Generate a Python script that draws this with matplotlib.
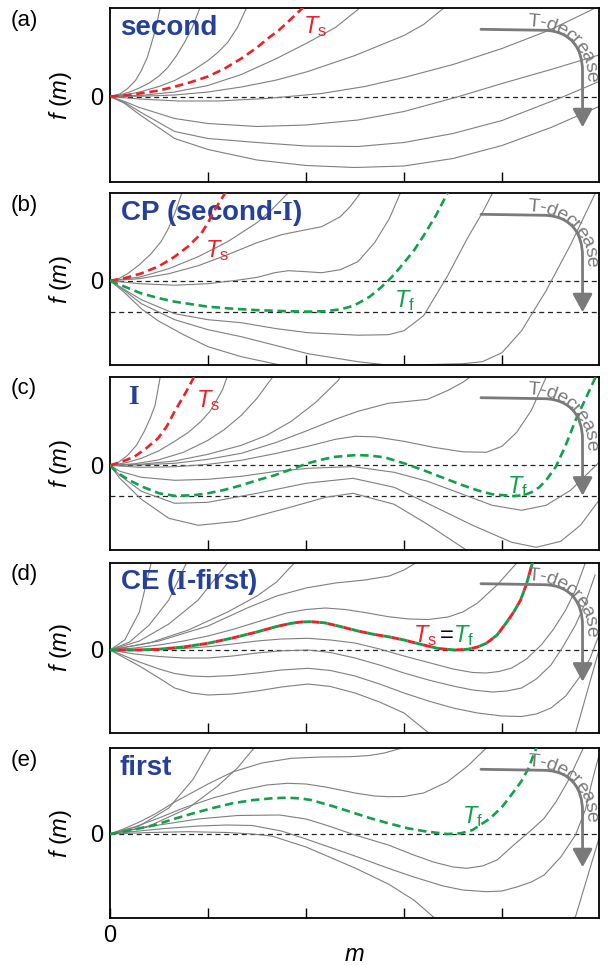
import numpy as np
import matplotlib.pyplot as plt
from matplotlib.path import Path
from matplotlib.patches import FancyArrowPatch
from matplotlib.transforms import Affine2D

plt.rcParams['font.family'] = ['Liberation Sans', 'DejaVu Sans']
plt.rcParams['mathtext.fontset'] = 'custom'
plt.rcParams['mathtext.rm'] = 'Liberation Sans'
plt.rcParams['mathtext.it'] = 'Liberation Sans:italic'
plt.rcParams['mathtext.bf'] = 'Liberation Serif:bold'

# ---- digitised free-energy curves, (m, f) pairs ----
# panel (a): second order
a_gray = [
    [(0, 0), (0.1, 0.25), (0.18, 0.8), (0.26, 1.6), (0.32, 2.6), (0.38, 3.9), (0.42, 5.2), (0.47, 6.9), (0.51, 8.8), (0.55, 10.5)],
    [(0, 0), (0.1, 0.15), (0.2, 0.45), (0.3, 0.85), (0.4, 1.35), (0.5, 2.05), (0.59, 2.9), (0.68, 4.1), (0.76, 5.4), (0.84, 6.9), (0.915, 8.8), (0.96, 10)],
    [(0, 0), (0.16, 0.15), (0.32, 0.5), (0.5, 1.0), (0.66, 1.6), (0.83, 2.5), (1.0, 3.6), (1.1, 4.4), (1.2, 5.4), (1.3, 6.9), (1.39, 8.8), (1.45, 10)],
    [(0, 0), (0.33, 0.12), (0.66, 0.45), (1.0, 1.1), (1.34, 2.2), (1.7, 3.8), (2.02, 5.4), (2.3, 6.9), (2.53, 8.7), (2.6, 9.3)],
    [(0, 0), (0.33, 0.03), (0.66, 0.15), (1.0, 0.45), (1.34, 0.95), (1.7, 1.65), (2.02, 2.5), (2.5, 4.1), (3.0, 6.1), (3.2, 7.2), (3.4, 8.8), (3.5, 9.5)],
    [(0, 0), (0.3, -0.25), (0.7, -0.45), (1.1, -0.45), (1.6, -0.2), (2.16, 0.3), (2.6, 1.0), (3.0, 1.9), (3.5, 3.2), (4.0, 4.8), (4.5, 6.7), (4.9, 8.6), (5.0, 9.1)],
    [(0, 0), (0.15, -0.5), (0.3, -1.1), (0.66, -2.2), (1.0, -2.7), (1.5, -3.0), (2.0, -2.85), (2.53, -2.35), (3.0, -1.5), (3.56, 0), (4.0, 1.3), (4.5, 2.7), (4.99, 4.15)],
    [(0, 0), (0.15, -0.6), (0.3, -1.5), (0.66, -3.5), (1.0, -4.2), (1.5, -4.6), (2.0, -4.95), (2.53, -5.0), (3.0, -4.6), (3.5, -3.7), (4.0, -2.4), (4.63, 0), (4.99, 1.5)],
    [(0, 0), (0.15, -0.7), (0.3, -1.8), (0.66, -4.2), (1.0, -5.3), (1.5, -6.35), (2.0, -6.9), (2.5, -7.1), (3.0, -6.95), (3.5, -6.2), (4.0, -4.9), (4.5, -3.1), (4.99, -1.0)],
]
a_ts = [(0, 0), (0.16, 0.12), (0.32, 0.32), (0.5, 0.6), (0.66, 0.98), (0.83, 1.45), (1.0, 2.0), (1.17, 2.8),
        (1.34, 3.8), (1.5, 4.9), (1.61, 5.8), (1.72, 6.6), (1.82, 7.5), (1.96, 8.8), (2.0, 9.3)]
a_tf = []

# panel (b): critical point (second-I)
b_gray = [
    [(0, 0), (0.08, 0.15), (0.18, 0.7), (0.3, 1.6), (0.42, 2.7), (0.52, 3.9), (0.59, 5.1), (0.66, 6.7), (0.73, 8.7), (0.78, 10)],
    [(0, 0), (0.3, 0.35), (0.6, 1.2), (0.9, 2.4), (1.2, 3.9), (1.5, 5.8), (1.65, 7.1), (1.81, 8.7), (1.86, 9.3)],
    [(0, 0), (0.3, 0.2), (0.6, 0.7), (0.9, 1.5), (1.2, 2.6), (1.5, 3.8), (1.75, 4.6), (1.95, 5.0), (2.16, 5.4), (2.35, 6.4), (2.45, 7.4), (2.55, 8.7), (2.6, 9.4)],
    [(0, 0), (0.3, -0.3), (0.66, -0.45), (1.0, -0.3), (1.3, 0.05), (1.51, 0.35), (1.68, 0.8), (1.82, 1.0), (2.0, 0.9), (2.16, 0.8), (2.35, 1.1), (2.53, 1.9), (2.7, 3.8), (2.85, 6.2), (2.96, 8.7), (3.0, 9.5)],
    [(0, 0), (0.15, -0.9), (0.32, -1.9), (0.66, -3.3), (1.0, -3.9), (1.34, -4.2), (1.7, -4.8), (2.02, -5.2), (2.53, -5.45), (2.84, -5.4), (3.0, -5.0), (3.2, -3.5), (3.44, 0.4), (3.65, 4.3), (3.8, 6.8), (3.9, 8.7), (3.95, 9.5)],
    [(0, 0), (0.15, -1.0), (0.32, -2.3), (0.66, -3.9), (1.0, -4.9), (1.34, -5.6), (1.7, -6.5), (2.02, -7.3), (2.53, -8.1), (2.8, -8.4), (3.2, -8.4), (3.6, -8.3), (3.8, -8.1), (4.0, -7.2), (4.2, -5.0), (4.45, -1.0), (4.7, 3.6), (4.95, 8.7), (5.0, 9.5)],
    [(0, 0), (0.15, -1.2), (0.32, -2.8), (0.49, -4.0), (0.75, -5.4), (1.0, -6.6), (1.34, -7.6), (1.77, -8.5), (1.9, -9.0)],
]
b_ts = [(0, 0), (0.15, 0.25), (0.32, 0.73), (0.5, 1.45), (0.66, 2.4), (0.8, 3.45), (0.93, 4.7), (1.0, 5.8),
        (1.07, 7.1), (1.12, 7.9), (1.19, 9.0)]
b_tf = [(0, 0), (0.15, -0.6), (0.32, -1.27), (0.5, -1.75), (0.66, -2.1), (1.0, -2.6), (1.25, -2.8), (1.51, -2.95),
        (1.8, -3.05), (2.02, -3.1), (2.2, -3.05), (2.36, -2.85), (2.45, -2.6), (2.53, -2.27), (2.65, -1.6),
        (2.75, -0.8), (2.84, 0.0), (2.92, 0.85), (3.0, 1.8), (3.1, 3.0), (3.2, 4.5), (3.33, 6.6), (3.44, 8.7),
        (3.48, 9.4)]

# panel (c): phase I
c_gray = [
    [(0, 0), (0.08, 0.25), (0.18, 1.0), (0.27, 2.0), (0.35, 3.4), (0.41, 4.7), (0.46, 6.0), (0.51, 8.7), (0.55, 10)],
    [(0, 0), (0.16, 0.25), (0.32, 0.7), (0.5, 1.45), (0.66, 2.4), (0.8, 3.3), (0.93, 4.4), (1.02, 5.4), (1.1, 6.7), (1.15, 7.6), (1.19, 8.7), (1.23, 9.5)],
    [(0, 0), (0.25, 0.15), (0.49, 0.53), (0.75, 1.3), (1.0, 2.5), (1.17, 3.6), (1.34, 5.0), (1.5, 6.7), (1.65, 8.7), (1.7, 9.4)],
    [(0, 0), (0.33, 0.12), (0.66, 0.43), (1.0, 1.1), (1.34, 2.0), (1.6, 3.0), (1.85, 4.4), (2.1, 6.3), (2.33, 8.5), (2.37, 9.2)],
    [(0, 0), (0.33, 0.05), (0.66, 0.2), (1.0, 0.6), (1.34, 1.2), (1.7, 2.3), (2.02, 3.5), (2.3, 4.6), (2.53, 5.4), (2.84, 6.2), (3.05, 6.4), (3.24, 6.6), (3.45, 7.5), (3.6, 8.3), (3.7, 9.0)],
    [(0, 0), (0.3, -0.2), (0.66, -0.15), (1.0, 0.1), (1.34, 0.5), (1.7, 1.2), (2.02, 1.9), (2.3, 2.6), (2.5, 2.9), (2.7, 2.85), (3.0, 2.4), (3.3, 1.8), (3.6, 1.35), (3.84, 1.3), (4.0, 1.9), (4.15, 3.3), (4.3, 5.5), (4.45, 8.8)],
    [(0, 0), (0.1, -0.6), (0.32, -1.2), (0.66, -1.5), (1.0, -1.4), (1.34, -1.1), (1.7, -0.6), (2.02, -0.3), (2.48, -0.13), (2.9, -0.7), (3.24, -1.6), (3.6, -2.9), (3.9, -4.0), (4.2, -4.5), (4.45, -4.0), (4.7, -2.5), (4.99, 0.3)],
    [(0, 0), (0.1, -1.0), (0.32, -2.6), (0.66, -3.8), (1.0, -3.7), (1.5, -2.8), (2.0, -1.8), (2.48, -1.3), (2.9, -2.2), (3.24, -3.8), (3.7, -6.0), (4.1, -7.7), (4.35, -8.2), (4.6, -7.6), (4.8, -6.0), (4.99, -3.5)],
    [(0, 0), (0.1, -1.3), (0.32, -3.4), (0.6, -5.3), (0.9, -6.0), (1.3, -5.6), (1.8, -4.3), (2.2, -3.2), (2.48, -2.8), (2.9, -3.9), (3.24, -5.9), (3.64, -8.5), (3.8, -9.5)],
]
c_ts = [(0, 0), (0.12, 0.35), (0.25, 0.87), (0.37, 1.7), (0.49, 2.7), (0.58, 3.9), (0.66, 5.4), (0.72, 6.4),
        (0.78, 7.4), (0.85, 8.7), (0.88, 9.5)]
c_tf = [(0, 0), (0.05, -0.5), (0.1, -0.9), (0.2, -1.5), (0.32, -2.1), (0.5, -2.8), (0.66, -3.05), (0.85, -3.0),
        (1.0, -2.8), (1.17, -2.45), (1.34, -2.0), (1.5, -1.5), (1.68, -1.0), (1.85, -0.4), (2.02, 0.2),
        (2.15, 0.55), (2.3, 0.85), (2.52, 1.03), (2.65, 0.97), (2.8, 0.8), (3.0, 0.2), (3.2, -0.5),
        (3.4, -1.25), (3.6, -2.0), (3.75, -2.5), (3.9, -2.9), (4.12, -3.07), (4.22, -3.0), (4.3, -2.7),
        (4.38, -2.2), (4.45, -1.5), (4.55, -0.13), (4.65, 2.0), (4.75, 4.5), (4.85, 6.6), (4.95, 8.7),
        (4.99, 9.5)]

# panel (d): critical end point (I-first), Ts = Tf
d_gray = [
    [(0, 0), (0.15, 1.0), (0.3, 3.8), (0.42, 8.7), (0.45, 10)],
    [(0, 0), (0.2, 0.8), (0.4, 2.5), (0.6, 5.0), (0.78, 8.7), (0.82, 9.6)],
    [(0, 0), (0.3, 0.9), (0.6, 2.6), (0.9, 5.0), (1.2, 8.7), (1.25, 9.5)],
    [(0, 0), (0.4, 0.7), (0.8, 2.0), (1.2, 3.8), (1.5, 5.4), (1.7, 6.8), (1.88, 8.7), (1.93, 9.4)],
    [(0, 0), (0.5, 0.9), (1.0, 2.4), (1.4, 4.2), (1.7, 5.4), (2.0, 6.2), (2.3, 6.7), (2.6, 7.0), (2.85, 7.4), (3.0, 8.0), (3.12, 8.7), (3.18, 9.3)],
    [(0, 0), (0.25, 0.2), (0.5, 0.5), (0.75, 0.9), (1.0, 1.4), (1.25, 2.05), (1.5, 2.8), (1.8, 3.7), (2.0, 4.05), (2.2, 4.2), (2.4, 4.05), (2.6, 3.75), (2.84, 3.33), (3.05, 3.1), (3.25, 3.05), (3.45, 3.3), (3.6, 3.8), (3.75, 4.7), (3.95, 6.5), (4.15, 8.7), (4.2, 9.4)],
    [(0, 0), (0.25, 0.0), (0.5, 0.05), (0.75, 0.15), (1.0, 0.33), (1.25, 0.6), (1.5, 0.9), (1.75, 1.1), (2.02, 1.17), (2.25, 1.0), (2.5, 0.7), (2.75, 0.1), (3.0, -0.6), (3.25, -1.25), (3.5, -1.9), (3.7, -2.25), (3.84, -2.3), (3.97, -2.15), (4.1, -1.8), (4.25, -0.9), (4.4, 0.5), (4.52, 2.0), (4.65, 4.0), (4.75, 6.0), (4.85, 8.7)],
    [(0, 0), (0.25, -0.4), (0.5, -0.65), (0.75, -0.8), (1.0, -0.8), (1.25, -0.6), (1.5, -0.3), (1.75, -0.08), (2.02, 0), (2.25, -0.25), (2.5, -0.8), (2.75, -1.5), (3.0, -2.3), (3.25, -3.0), (3.5, -3.6), (3.7, -4.0), (3.9, -4.2), (4.05, -4.1), (4.2, -3.8), (4.35, -2.9), (4.5, -1.5), (4.62, 0.3), (4.75, 2.5), (4.85, 4.7), (4.95, 7.5)],
    [(0, 0), (0.15, -0.6), (0.3, -1.2), (0.5, -1.9), (0.66, -2.35), (0.83, -2.6), (1.0, -2.67), (1.25, -2.55), (1.5, -2.3), (1.75, -2.0), (2.02, -1.83), (2.25, -2.05), (2.5, -2.6), (2.75, -3.4), (3.0, -4.3), (3.25, -5.1), (3.5, -5.8), (3.75, -6.3), (4.0, -6.6), (4.2, -6.65), (4.35, -6.4), (4.5, -5.8), (4.65, -4.6), (4.8, -2.6), (4.9, -0.8), (4.99, 1.5)],
    [(0, 0), (0.15, -0.8), (0.3, -1.6), (0.5, -2.8), (0.66, -3.8), (0.83, -4.3), (1.0, -4.5), (1.25, -4.4), (1.5, -4.1), (1.75, -3.7), (2.02, -3.4), (2.25, -3.65), (2.5, -4.3), (2.75, -5.2), (3.0, -6.3), (3.24, -8.2), (3.5, -9.8), (4.0, -10.8), (4.4, -10.3), (4.75, -8.3), (4.99, 0)],
]
d_ts = [(0, 0), (0.25, 0.0), (0.49, 0.07), (0.75, 0.3), (1.0, 0.67), (1.25, 1.2), (1.51, 1.83), (1.7, 2.35),
        (1.85, 2.67), (1.95, 2.8), (2.05, 2.83), (2.19, 2.72), (2.35, 2.35), (2.53, 1.9), (2.7, 1.55),
        (2.84, 1.33), (3.0, 1.0), (3.2, 0.5), (3.35, 0.15), (3.52, 0.0), (3.65, 0.07), (3.75, 0.3),
        (3.84, 0.67), (3.95, 1.5), (4.04, 2.67), (4.12, 3.8), (4.19, 5.0), (4.25, 6.6), (4.31, 8.7), (4.33, 9.3)]
d_tf = d_ts

# panel (e): first order
e_gray = [
    [(0, 0), (0.3, 0.8), (0.6, 2.6), (0.85, 5.5), (1.03, 8.6), (1.07, 9.4)],
    [(0, 0), (0.4, 0.8), (0.8, 2.6), (1.1, 4.8), (1.3, 6.6), (1.47, 8.6), (1.52, 9.3)],
    [(0, 0), (0.15, 0.55), (0.3, 1.2), (0.46, 2.0), (0.66, 3.2), (0.85, 4.2), (1.0, 5.0), (1.25, 6.2), (1.55, 7.1), (1.85, 7.57), (2.15, 7.7), (2.45, 7.73), (2.65, 7.85), (2.8, 8.1), (2.98, 8.6), (3.05, 9.2)],
    [(0, 0), (0.25, 0.7), (0.5, 1.6), (0.75, 2.6), (1.05, 3.6), (1.35, 4.4), (1.6, 4.9), (1.81, 5.07), (2.0, 5.0), (2.2, 4.7), (2.5, 4.1), (2.7, 3.8), (2.84, 3.73), (3.0, 3.75), (3.2, 4.1), (3.44, 5.2), (3.65, 6.8), (3.84, 8.6), (3.9, 9.3)],
    [(0, 0), (0.25, 0.45), (0.5, 0.9), (0.9, 1.5), (1.3, 1.85), (1.73, 1.9), (2.0, 1.5), (2.2, 0.9), (2.5, -0.1), (2.84, -1.1), (3.1, -2.1), (3.3, -2.8), (3.5, -3.3), (3.64, -3.43), (3.8, -3.2), (3.95, -2.6), (4.12, -1.1), (4.3, 0.4), (4.43, 1.57), (4.55, 3.2), (4.67, 5.23), (4.83, 8.6), (4.87, 9.4)],
    [(0, 0), (0.25, 0.25), (0.5, 0.5), (0.9, 0.8), (1.2, 0.9), (1.45, 0.85), (1.75, 0.3), (2.0, -0.5), (2.5, -2.2), (2.84, -3.43), (3.1, -4.3), (3.4, -5.2), (3.6, -5.6), (3.84, -5.77), (4.0, -5.7), (4.15, -5.3), (4.3, -4.8), (4.43, -4.1), (4.6, -2.3), (4.75, -0.1), (4.85, 2.4), (4.91, 4.9), (4.99, 7.9)],
    [(0, 0), (0.4, 0.15), (0.8, 0.23), (1.2, 0.15), (1.45, 0.0), (1.65, -0.2), (2.0, -1.3), (2.5, -3.4), (2.84, -5.0), (3.1, -6.6), (3.3, -8.3), (3.5, -9.6), (4.0, -11.0), (4.4, -10.6), (4.75, -8.27), (4.99, -0.43)],
]
e_ts = []
e_tf = [(0, 0), (0.2, 0.35), (0.46, 0.9), (0.65, 1.5), (0.85, 2.07), (1.05, 2.6), (1.25, 3.07), (1.45, 3.38),
        (1.65, 3.57), (1.81, 3.63), (1.95, 3.55), (2.05, 3.4), (2.25, 2.85), (2.45, 2.23), (2.65, 1.6),
        (2.84, 1.07), (3.05, 0.55), (3.24, 0.23), (3.44, 0.0), (3.58, 0.07), (3.7, 0.4), (3.88, 1.57),
        (4.0, 2.7), (4.12, 4.23), (4.2, 5.3), (4.27, 6.57), (4.35, 8.6), (4.38, 9.3)]

panel_gray = [a_gray, b_gray, c_gray, d_gray, e_gray]
panel_ts = [a_ts, b_ts, c_ts, d_ts, e_ts]
panel_tf = [a_tf, b_tf, c_tf, d_tf, e_tf]
panel_names = ['second', 'CP (second-$\\mathbf{I}$)', '$\\mathbf{I}$', 'CE ($\\mathbf{I}$-first)', 'first']
panel_letters = ['(a)', '(b)', '(c)', '(d)', '(e)']
second_min_line = [False, True, True, False, False]

# ---- layout (pixels of the 608x965 canvas) ----
W, H = 608, 965
AX_L, AX_W = 110, 489
PX_PER_M = 98.0
PX_PER_F = 10.0
panel_px = [(8.3, 181.7, 96.5), (193.3, 365.0, 280.7), (376.7, 550.0, 465.3),
            (562.7, 732.7, 650.0), (748.3, 918.3, 834.0)]
name_x = [0.02, 0.02, 0.037, 0.02, 0.02]

GRAY = '#7f7f7f'
RED = '#ec2227'
GREEN = '#13a04a'
BLUE = '#24409a'
ARROW = '#7a7a7a'

fig = plt.figure(figsize=(W / 100, H / 100), dpi=100)


def xy(curve):
    return [p[0] for p in curve], [p[1] for p in curve]


def t_decrease(ax, top):
    tr = Affine2D().scale(1, -1).translate(AX_L, H - top)
    verts = [(371, 21), (435, 22), (461, 23), (472.5, 40), (472.5, 63), (472.6, 119)]
    codes = [Path.MOVETO, Path.LINETO, Path.CURVE4, Path.CURVE4, Path.CURVE4, Path.LINETO]
    arr = FancyArrowPatch(path=Path(verts, codes), arrowstyle='-|>,head_length=0.55,head_width=0.3',
                          mutation_scale=20, color=ARROW, lw=2.0, transform=tr, zorder=5)
    ax.add_patch(arr)
    # text bent along the arrow
    s = 'T-decrease'
    adv = [0.611, 0.333, 0.556, 0.556, 0.5, 0.333, 0.556, 0.556, 0.5, 0.556]
    fs = 14
    em = fs * 100 / 72
    cx, cy, rx, ry = 418, 70, 63, 57
    th = np.radians(np.linspace(100, -40, 2000))
    px = cx + rx * np.cos(th)
    py = cy - ry * np.sin(th)
    seg = np.hypot(np.diff(px), np.diff(py))
    sl = np.concatenate([[0], np.cumsum(seg)])
    s0 = np.interp(np.radians(85), th[::-1], sl[::-1])
    pos = np.cumsum([0] + adv[:-1]) + np.array(adv) / 2 - adv[0] / 2
    for ch, p in zip(s, pos):
        k = min(np.searchsorted(sl, s0 + p * em), len(th) - 1)
        t = th[k]
        rot = np.degrees(np.arctan2(-ry * np.cos(t), rx * np.sin(t)))
        ax.text(px[k], py[k], ch, transform=tr, rotation=rot, rotation_mode='anchor',
                ha='center', va='center', fontsize=fs, color=ARROW, zorder=5)


axes = []
for i in range(5):
    top, bot, zero = panel_px[i]
    ax = fig.add_axes([AX_L / W, 1 - bot / H, AX_W / W, (bot - top) / H])
    ax.set_xlim(0, AX_W / PX_PER_M)
    ax.set_ylim((zero - bot) / PX_PER_F, (zero - top) / PX_PER_F)
    for sp in ax.spines.values():
        sp.set_linewidth(1.3)

    for c in panel_gray[i]:
        m, f = xy(c)
        ax.plot(m, f, color=GRAY, lw=0.8, zorder=2)
    ax.axhline(0, color='#222222', lw=0.9, ls=(0, (4, 3)), zorder=1)

    ts, tf = panel_ts[i], panel_tf[i]
    if second_min_line[i]:
        ax.axhline(min(xy(tf)[1]), color='#222222', lw=0.9, ls=(0, (4, 3)), zorder=1)
    if ts and tf and ts is tf:
        m, f = xy(ts)
        ax.plot(m, f, color=GREEN, lw=2.1, ls=(0, (2.8, 2.8)), zorder=4)
        ax.plot(m, f, color=RED, lw=2.1, ls=(2.8, (2.8, 2.8)), zorder=4)
    else:
        if ts:
            m, f = xy(ts)
            ax.plot(m, f, color=RED, lw=1.9, ls=(0, (3.2, 1.8)), zorder=4)
        if tf:
            m, f = xy(tf)
            ax.plot(m, f, color=GREEN, lw=1.9, ls=(0, (3.2, 1.8)), zorder=4)

    ax.set_xticks([1, 2, 3, 4])
    ax.tick_params(axis='x', direction='in', length=7, width=1, labelbottom=False)
    ax.set_yticks([0])
    ax.set_yticklabels(['0'])
    ax.tick_params(axis='y', length=0, pad=5, labelsize=17)
    ax.set_ylabel('$f\\ (m)$', fontsize=17)
    ax.yaxis.set_label_coords(-0.074, 0.5)

    ax.text(name_x[i], 0.885, panel_names[i], transform=ax.transAxes, fontsize=20, fontweight='bold',
            color=BLUE, ha='left', va='center')
    ax.text(-0.204, 0.99, panel_letters[i], transform=ax.transAxes, fontsize=16, ha='left', va='top')
    t_decrease(ax, top)
    axes.append(ax)

# curve labels
fsT = 17
axes[0].text(1.97, 6.35, '$T_{\\rm s}$', color=RED, fontsize=fsT, va='baseline')
axes[1].text(0.97, 2.37, '$T_{\\rm s}$', color=RED, fontsize=fsT, va='baseline')
axes[1].text(2.9, -2.63, '$T_{\\rm f}$', color=GREEN, fontsize=fsT, va='baseline')
axes[2].text(0.88, 5.83, '$T_{\\rm s}$', color=RED, fontsize=fsT, va='baseline')
axes[2].text(4.05, -2.77, '$T_{\\rm f}$', color=GREEN, fontsize=fsT, va='baseline')
axes[3].text(3.09, 0.8, '$T_{\\rm s}$', color=RED, fontsize=fsT, va='baseline')
axes[3].text(3.37, 0.8, '=', color='black', fontsize=fsT, va='baseline')
axes[3].text(3.5, 0.8, '$T_{\\rm f}$', color=GREEN, fontsize=fsT, va='baseline')
axes[4].text(3.59, 1.1, '$T_{\\rm f}$', color=GREEN, fontsize=fsT, va='baseline')

axb = axes[-1]
axb.set_xticks([0, 1, 2, 3, 4])
axb.set_xticklabels(['0', '', '', '', ''])
axb.tick_params(axis='x', labelbottom=True, labelsize=17, pad=5)
axb.set_xlabel('$m$', fontsize=17, labelpad=-2)

fig.savefig('out.png', dpi=100)
